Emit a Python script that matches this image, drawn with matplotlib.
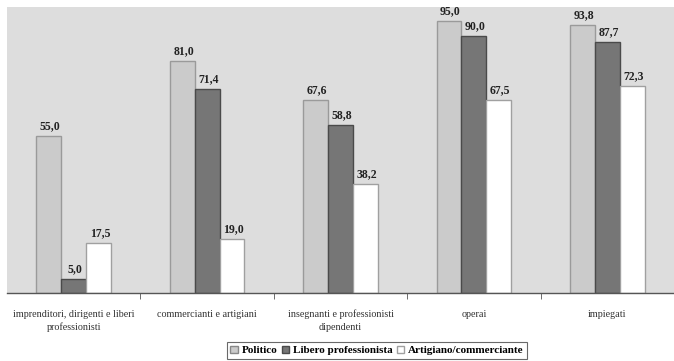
import numpy as np
import matplotlib.pyplot as plt
from matplotlib.patches import Patch

categorie = ["imprenditori, dirigenti e liberi\nprofessionisti",
             "commercianti e artigiani",
             "insegnanti e professionisti\ndipendenti",
             "operai",
             "impiegati"]
politico = [55.0, 81.0, 67.6, 95.0, 93.8]
libero = [5.0, 71.4, 58.8, 90.0, 87.7]
artigiano = [17.5, 19.0, 38.2, 67.5, 72.3]
serie = ["Politico", "Libero professionista", "Artigiano/commerciante"]

facce = ["#cbcbcb", "#767676", "#ffffff"]
bordi = ["#9a9a9a", "#4a4a4a", "#a0a0a0"]

plt.rcParams['font.family'] = ['Liberation Serif', 'DejaVu Serif']

fig = plt.figure(figsize=(6.74, 3.61), dpi=100)
ax = fig.add_axes([7/674, 1 - 293/361, 667/674, 286/361])
ax.set_facecolor("#dddddd")

x = np.arange(len(categorie))
w = 25/134
for i, vals in enumerate([politico, libero, artigiano]):
    pos = x + (i - 1) * w
    ax.bar(pos, vals, w, color=facce[i], edgecolor=bordi[i], linewidth=1.0)
    for p, v in zip(pos, vals):
        ax.text(p + 0.01, v + 1.3, f"{v:.1f}".replace(".", ","), ha="center", va="bottom",
                fontsize=8.5, fontweight="bold", color="#222222", clip_on=False)

ax.set_xlim(-0.5, len(categorie) - 0.5)
ax.set_ylim(0, 100)
ax.set_yticks([])
for s in ["top", "right", "left"]:
    ax.spines[s].set_visible(False)
ax.spines["bottom"].set_color("#555555")
ax.spines["bottom"].set_linewidth(1.0)

ax.set_xticks(x[:-1] + 0.5, minor=True)
ax.set_xticks(x)
ax.set_xticklabels(categorie, fontsize=7.3, color="#333333", linespacing=1.5)
ax.tick_params(axis="x", which="major", length=0, pad=12)
ax.tick_params(axis="x", which="minor", length=4, color="#555555", direction="out")

handles = [Patch(facecolor=facce[i], edgecolor=bordi[i] if i else "#888888", label=serie[i]) for i in range(3)]
leg = fig.legend(handles=handles, loc="lower center", bbox_to_anchor=(0.559, 0.0), ncol=3,
                 frameon=True, fancybox=False, edgecolor="#444444",
                 prop={"weight": "bold", "size": 8}, handlelength=0.7, handleheight=0.7,
                 handletextpad=0.3, columnspacing=0.4, borderpad=0.3, borderaxespad=0.2)
leg.get_frame().set_linewidth(0.8)

fig.savefig("out.png", dpi=100)
